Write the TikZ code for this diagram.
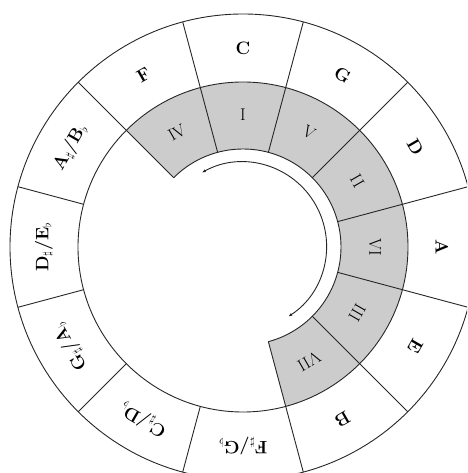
\documentclass[tikz,border=0pt]{standalone}
\usetikzlibrary{arrows.meta}
\begin{document}
\begin{tikzpicture}[x=1pt,y=1pt,
  ringline/.style={line width=0.9pt,black!85},
  keylabel/.style={font=\fontsize{18}{21}\selectfont\bfseries,inner sep=0pt},
  degreelabel/.style={font=\fontsize{17}{20}\selectfont,inner sep=0pt},
  gray fill/.style={fill=black!20}]
\useasboundingbox (-243,-226) rectangle (224,247);
\clip (-243,-226) rectangle (224,247);
\def\Ra{233}\def\Rb{165}\def\Rc{98}
% gray sector
\fill[gray fill] (135:\Rb) arc[start angle=135,end angle=-75,radius=\Rb]
  -- (-75:\Rc) arc[start angle=-75,end angle=135,radius=\Rc] -- cycle;
% circles
\draw[ringline] (0,0) circle[radius=\Ra];
\draw[ringline] (0,0) circle[radius=\Rb];
\draw[ringline] (135:\Rc) arc[start angle=135,end angle=-75,radius=\Rc];
% outer separators
\foreach \a in {105,75,...,-225} \draw[ringline] (\a:\Rb) -- (\a:\Ra);
% inner separators
\foreach \a in {135,105,75,45,15,-15,-45,-75} \draw[ringline] (\a:\Rc) -- (\a:\Rb);
% key labels
\foreach \a/\t/\n in {90/C/kC,60/G/kG,30/D/kD,0/A/kA,-30/E/kE,-60/B/kB,
  -90/{F$_\sharp$/G$_\flat$}/kFs,-120/{C$_\sharp$/D$_\flat$}/kCs,
  -150/{G$_\sharp$/A$_\flat$}/kGs,-180/{D$_\sharp$/E$_\flat$}/kDs,
  -210/{A$_\sharp$/B$_\flat$}/kAs,-240/F/kF}
  \node[keylabel,rotate=\a-90] (\n) at (\a:199) {\t};
% degree labels
\foreach \a/\t/\n in {120/IV/d4,90/I/d1,60/V/d5,30/II/d2,0/VI/d6,-30/III/d3,-60/VII/d7}
  \node[degreelabel,rotate=\a-90] (\n) at (\a:132) {\t};
% arrow
\coordinate (arrA) at (119:85);
\coordinate (arrB) at (-57:82);
\draw[line width=0.9pt,black!85,{Latex[length=4pt,width=3pt]}-{Latex[length=4pt,width=3pt]}]
  (arrA) arc[start angle=119,end angle=-57,radius=84];
\end{tikzpicture}
\end{document}
